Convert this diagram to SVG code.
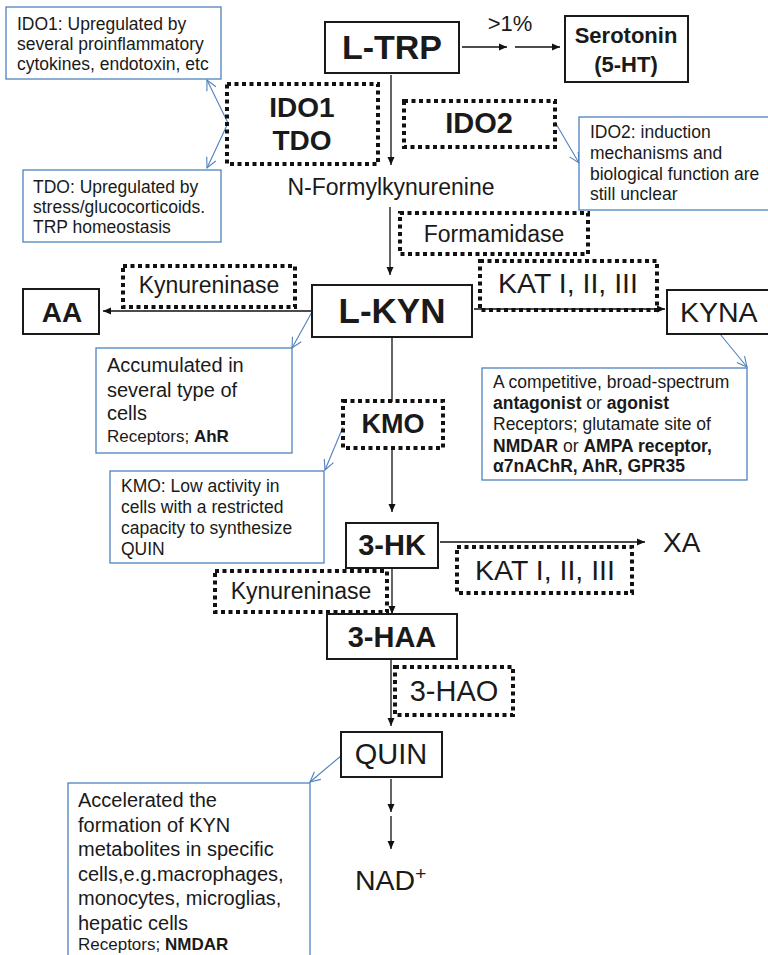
<svg xmlns="http://www.w3.org/2000/svg" width="768" height="955" viewBox="0 0 768 955">
<defs>
<style>
text{font-family:"Liberation Sans",Arial,sans-serif;fill:#1a1a1a}
.b{font-weight:bold}
.box{fill:#fff;stroke:#1a1a1a;stroke-width:2}
.dz{fill:none;stroke:#111;stroke-width:4;stroke-dasharray:4 3.5}
.note{fill:#fff;stroke:#4f81bd;stroke-width:1.3}
.ln{stroke:#111;stroke-width:1.3;fill:none}
.bl{stroke:#4f81bd;stroke-width:1.1;fill:none}
.n{font-size:17.5px}
.m{text-anchor:middle}
</style>
<marker id="ah" markerWidth="10" markerHeight="10" refX="9" refY="5" orient="auto" markerUnits="userSpaceOnUse"><path d="M1,1.5 L9,5 L1,8.5 Z" fill="#111"/></marker>
<marker id="bh" markerWidth="12" markerHeight="12" refX="11" refY="6" orient="auto" markerUnits="userSpaceOnUse"><path d="M1,1 L11,6 L1,11" fill="none" stroke="#4f81bd" stroke-width="1.1"/></marker>
</defs>

<g id="connectors">
<line class="ln" x1="462" y1="47" x2="507" y2="47" marker-end="url(#ah)"/>
<line class="ln" x1="515" y1="47" x2="560" y2="47" marker-end="url(#ah)"/>
<line class="ln" x1="391" y1="75" x2="391" y2="165" marker-end="url(#ah)"/>
<line class="ln" x1="390" y1="207" x2="390" y2="275" marker-end="url(#ah)"/>
<line class="ln" x1="312" y1="311" x2="103" y2="311" marker-end="url(#ah)"/>
<line class="ln" x1="474" y1="309" x2="665" y2="309" marker-end="url(#ah)"/>
<line class="ln" x1="392" y1="338" x2="392" y2="402"/>
<line class="ln" x1="392" y1="448" x2="392" y2="512" marker-end="url(#ah)"/>
<line class="ln" x1="440" y1="542" x2="645" y2="542" marker-end="url(#ah)"/>
<line class="ln" x1="392" y1="569" x2="392" y2="614" marker-end="url(#ah)"/>
<line class="ln" x1="391" y1="660" x2="391" y2="726" marker-end="url(#ah)"/>
<line class="ln" x1="391" y1="779" x2="391" y2="812" marker-end="url(#ah)"/>
<line class="ln" x1="391" y1="816" x2="391" y2="849" marker-end="url(#ah)"/>
<line class="bl" x1="228" y1="123" x2="207" y2="80" marker-end="url(#bh)"/>
<line class="bl" x1="228" y1="123" x2="207" y2="168" marker-end="url(#bh)"/>
<line class="bl" x1="555" y1="122" x2="579" y2="163" marker-end="url(#bh)"/>
<line class="bl" x1="312" y1="312" x2="292" y2="348" marker-end="url(#bh)"/>
<line class="bl" x1="720" y1="334" x2="747" y2="367" marker-end="url(#bh)"/>
<line class="bl" x1="343" y1="427" x2="325" y2="470" marker-end="url(#bh)"/>
<line class="bl" x1="342" y1="755" x2="310" y2="782" marker-end="url(#bh)"/>
</g>

<g id="ltrp"><rect class="box" x="325" y="22" width="134" height="51"/><text class="b m" x="392" y="59" font-size="34">L-TRP</text></g>
<g id="pct"><text x="510" y="31" font-size="22" class="m">&gt;1%</text></g>
<g id="serotonin"><rect class="box" x="565" y="16" width="123" height="66"/><text class="b m" x="626" y="43" font-size="22">Serotonin</text><text class="b m" x="626" y="72" font-size="22">(5-HT)</text></g>

<g id="note-ido1"><rect class="note" x="6" y="7" width="215" height="72"/><text class="n" x="17" y="30">IDO1: Upregulated by</text><text class="n" x="17" y="50">several proinflammatory</text><text class="n" x="17" y="70">cytokines, endotoxin, etc</text></g>
<g id="ido1tdo"><rect class="dz" x="227" y="84" width="151" height="80"/><text class="b m" x="302" y="117" font-size="28">IDO1</text><text class="b m" x="302" y="150" font-size="28">TDO</text></g>
<g id="note-tdo"><rect class="note" x="23" y="170" width="198" height="72"/><text class="n" x="33" y="193">TDO: Upregulated by</text><text class="n" x="33" y="213">stress/glucocorticoids.</text><text class="n" x="33" y="233">TRP homeostasis</text></g>

<g id="ido2"><rect class="dz" x="404" y="101" width="151" height="46"/><text class="b m" x="479" y="133" font-size="29">IDO2</text></g>
<g id="note-ido2"><rect class="note" x="579" y="117" width="195" height="93"/><text class="n" x="590" y="138">IDO2: induction</text><text class="n" x="590" y="159">mechanisms and</text><text class="n" x="590" y="180">biological function are</text><text class="n" x="590" y="200">still unclear</text></g>

<g id="nfk"><text x="391" y="195" font-size="23" class="m">N-Formylkynurenine</text></g>
<g id="formamidase"><rect class="dz" x="400" y="213" width="188" height="41"/><text class="m" x="494" y="242" font-size="23">Formamidase</text></g>

<g id="kynureninase1"><rect class="dz" x="123" y="266" width="172" height="41"/><text class="m" x="209" y="293" font-size="23">Kynureninase</text></g>
<g id="aa"><rect class="box" x="23" y="289" width="76" height="45"/><text class="b m" x="62" y="322" font-size="28">AA</text></g>
<g id="lkyn"><rect class="box" x="312" y="285" width="160" height="52"/><text class="b m" x="392" y="323" font-size="35">L-KYN</text></g>
<g id="kat1"><rect class="dz" x="480" y="261" width="177" height="49"/><text class="m" x="568" y="293" font-size="28.5">KAT I, II, III</text></g>
<g id="kyna"><rect class="box" x="667" y="290" width="105" height="44"/><text x="680" y="322" font-size="28.5">KYNA</text></g>

<g id="note-lkyn"><rect class="note" x="96" y="348" width="196" height="105"/><text x="107" y="372" font-size="20">Accumulated in</text><text x="107" y="397" font-size="20">several type of</text><text x="107" y="420" font-size="20">cells</text><text x="107" y="442" font-size="17">Receptors; <tspan class="b">AhR</tspan></text></g>
<g id="note-kyna"><rect class="note" x="482" y="368" width="265" height="112"/><text class="n" x="493" y="388">A competitive, broad-spectrum</text><text class="n" x="493" y="409"><tspan class="b">antagonist</tspan> or <tspan class="b">agonist</tspan></text><text class="n" x="493" y="430">Receptors; glutamate site of</text><text class="n" x="493" y="452"><tspan class="b">NMDAR</tspan> or <tspan class="b">AMPA receptor,</tspan></text><text class="n b" x="493" y="472">α7nAChR, AhR, GPR35</text></g>

<g id="kmo"><rect class="dz" x="343" y="401" width="100" height="47"/><text class="b m" x="393" y="433" font-size="27">KMO</text></g>
<g id="note-kmo"><rect class="note" x="110" y="471" width="214" height="92"/><text class="n" x="121" y="492">KMO: Low activity in</text><text class="n" x="121" y="513">cells with a restricted</text><text class="n" x="121" y="534">capacity to synthesize</text><text class="n" x="121" y="555">QUIN</text></g>

<g id="hk"><rect class="box" x="346" y="523" width="92" height="45"/><text class="b m" x="392" y="555" font-size="29">3-HK</text></g>
<g id="xa"><text x="663" y="552" font-size="28">XA</text></g>
<g id="kat2"><rect class="dz" x="457" y="547" width="175" height="46"/><text class="m" x="545" y="580" font-size="28.5">KAT I, II, III</text></g>
<g id="kynureninase2"><rect class="dz" x="215" y="571" width="172" height="41"/><text class="m" x="301" y="599" font-size="23">Kynureninase</text></g>
<g id="haa"><rect class="box" x="327" y="614" width="130" height="45"/><text class="b m" x="392" y="647" font-size="29">3-HAA</text></g>
<g id="hao"><rect class="dz" x="395" y="667" width="118" height="48"/><text class="m" x="454" y="701" font-size="29">3-HAO</text></g>
<g id="quin"><rect class="box" x="341" y="732" width="101" height="45"/><text class="m" x="391" y="764" font-size="29">QUIN</text></g>
<g id="nad"><text x="355" y="890" font-size="28.5">NAD<tspan font-size="19" dy="-10">+</tspan></text></g>
<g id="note-quin"><rect class="note" x="68" y="783" width="242" height="190"/><text x="78" y="807" font-size="20">Accelerated the</text><text x="78" y="832" font-size="20">formation of KYN</text><text x="78" y="856" font-size="20">metabolites in specific</text><text x="78" y="881" font-size="20">cells,e.g.macrophages,</text><text x="78" y="905" font-size="20">monocytes, microglias,</text><text x="78" y="930" font-size="20">hepatic cells</text><text x="78" y="950" font-size="17">Receptors; <tspan class="b">NMDAR</tspan></text></g>
</svg>
